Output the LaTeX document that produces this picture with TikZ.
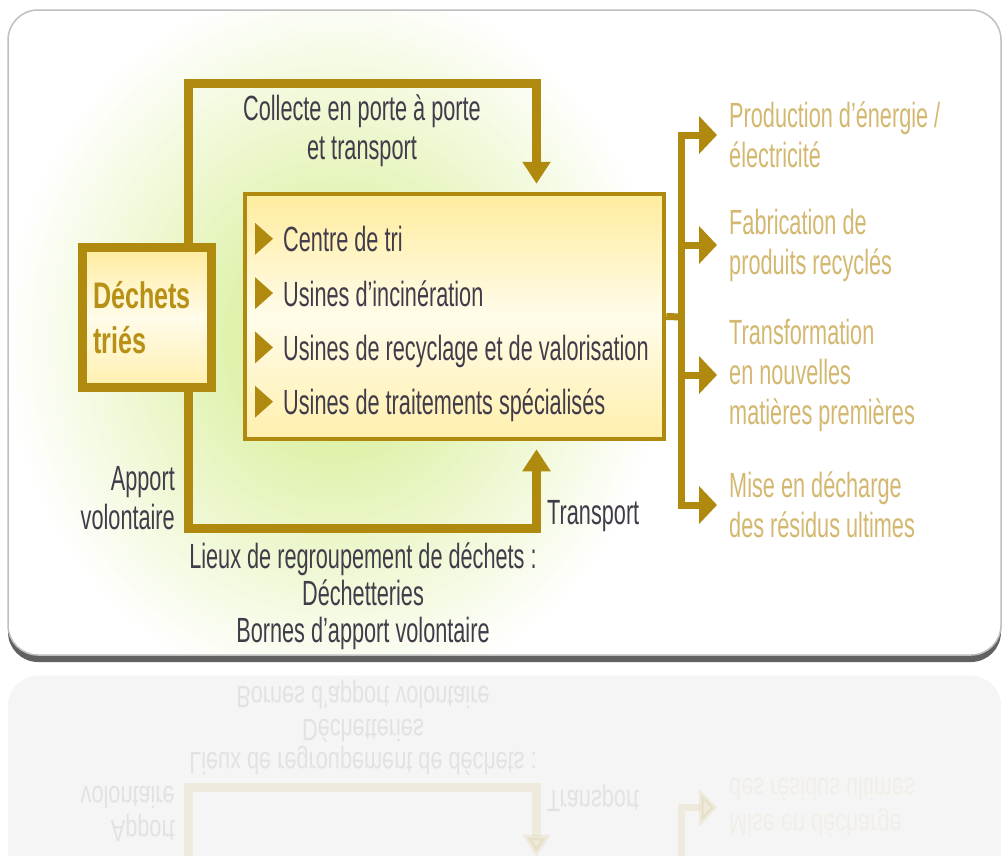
\documentclass[tikz,border=0pt]{standalone}
\usepackage{fontspec}
\setmainfont{Liberation Sans}[FakeStretch=0.62]
\newfontfamily\grasfont{Liberation Sans}[FakeStretch=0.68]
\usetikzlibrary{arrows.meta}
\definecolor{or}{RGB}{176,138,14}
\definecolor{ortexte}{RGB}{184,144,22}
\definecolor{ocre}{RGB}{212,184,112}
\definecolor{encre}{RGB}{66,60,74}
\definecolor{jaune}{RGB}{255,236,158}
\definecolor{creme}{RGB}{255,252,234}
\definecolor{vert}{RGB}{210,236,136}
\tikzset{
  boite/.style={draw=or, top color=jaune, bottom color=jaune!80!creme, middle color=creme},
  dechets/.style={boite, line width=9pt, minimum width=129pt, minimum height=140pt,
    text width=108pt, inner xsep=10.5pt, align=left, text=ortexte,
    font=\grasfont\bfseries\fontsize{37}{45}\selectfont},
  centre/.style={boite, line width=4.5pt, minimum width=419pt, minimum height=245pt},
  usine/.style={anchor=base west, inner sep=0pt, text=encre, font=\fontsize{35}{39}\selectfont},
  legende/.style={inner sep=0pt, align=center, text=encre, font=\fontsize{35}{39}\selectfont},
  sortie/.style={anchor=west, inner sep=0pt, align=left, text=ocre, font=\fontsize{35}{40}\selectfont},
  boucle/.style={draw=or, line width=9pt, -{Triangle[length=22pt,width=27pt]}},
  brin/.style={draw=or, line width=7pt},
  fleche/.style={brin, -{Triangle[length=18pt,width=37pt]}}
}
\newcommand\partiebasse{%
  \coordinate (coinbas) at (188,528);
  \coordinate (bas) at (536.5,528);
  \draw[boucle] (dech.south -| coinbas) -- (coinbas) -- (bas) -- ([yshift=-8pt]centre.south -| bas);
  \node[legende, anchor=east, align=right] (apport) at (175,498) {Apport\\volontaire};
  \node[legende, anchor=west] (transport) at (547,516) {Transport};
  \node[legende, font=\fontsize{35}{37}\selectfont] (lieux) at (363,596)
    {Lieux de regroupement de déchets :\\Déchetteries\\Bornes d’apport volontaire};
  \coordinate (tr) at (681.5,317);
  \node[sortie] (s4) at (729,505) {Mise en décharge\\des résidus ultimes};
  \draw[fleche] (tr) |- ([xshift=-12pt]s4.west);
}
\newcommand\dessin{%
  \node[dechets] (dech) at (147,317.5) {Déchets\\triés};
  \node[centre] (centre) at (454.5,316.5) {};
  \foreach \texte [count=\i] in {Centre de tri,Usines d’incinération,Usines de recyclage et de valorisation,Usines de traitements spécialisés}
    {\node[usine] (u\i) at (283,197.5+54.3*\i) {\texte};
     \fill[or] ([shift={(-28,-29)}]u\i.base west) -- ++(0,32) -- ++(18,-16) -- cycle;}
  \partiebasse
  \coordinate (coinhaut) at (188,83);
  \coordinate (haut) at (536.5,83);
  \draw[boucle] (dech.north -| coinhaut) -- (coinhaut) -- (haut) -- ([yshift=8pt]centre.north -| haut);
  \node[legende] (collecte) at (362,131) {Collecte en porte à porte\\et transport};
  \node[sortie] (s1) at (729,135) {Production d’énergie /\\électricité};
  \node[sortie] (s2) at (729,245) {Fabrication de\\produits recyclés};
  \node[sortie] (s3) at (729,375) {Transformation\\en nouvelles\\matières premières};
  \draw[brin] (centre.east) -- (tr);
  \foreach \s in {s1,s2,s3}
    \draw[fleche] (tr) |- ([xshift=-12pt]\s.west);
}
\begin{document}
\begin{tikzpicture}[x=1pt,y=-1pt]
  \useasboundingbox (0,0) rectangle (1003,855);
  \fill[black!62, rounded corners=30pt] (8,16) rectangle (1001,662);
  \fill[white, rounded corners=30pt] (8,10) rectangle (1001,655);
  \begin{scope}
    \clip[rounded corners=30pt] (8,10) rectangle (1001,655);
    \shade[inner color=vert, outer color=white] (335,340) ellipse [x radius=330, y radius=360];
  \end{scope}
  \dessin
  \draw[black!25, line width=1.5pt, rounded corners=30pt] (8,10) rectangle (1001,655);
  \begin{scope}
    \clip (0,667) rectangle (1003,855);
    \begin{scope}[yshift=-1252.08pt, yscale=-0.88, transform shape, opacity=0.1]
      \fill[black!40, rounded corners=30pt] (8,10) rectangle (1001,655);
      \node[dechets] (dech) at (147,317.5) {};
      \node[centre] (centre) at (454.5,316.5) {};
      \partiebasse
    \end{scope}
  \end{scope}
\end{tikzpicture}
\end{document}
